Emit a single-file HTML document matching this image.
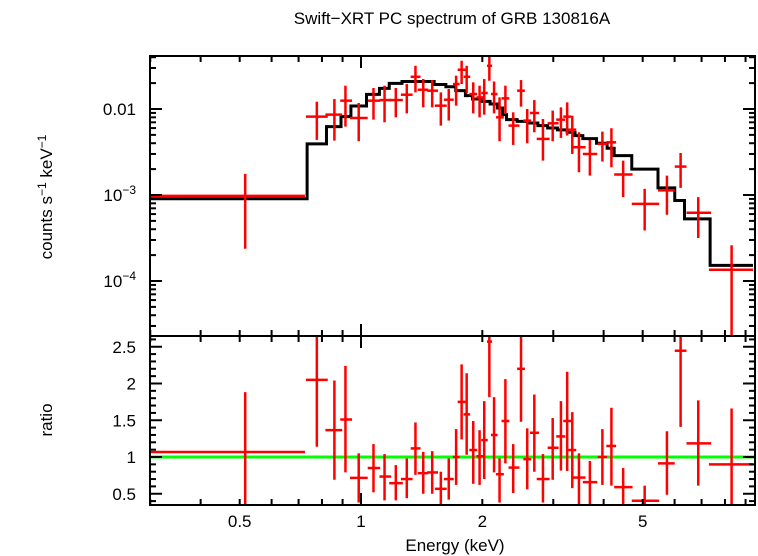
<!DOCTYPE html>
<html><head><meta charset="utf-8"><style>
body{margin:0;background:#fff;}
svg{display:block;font-family:"Liberation Sans",sans-serif;}
</style></head><body>
<svg id="chart" width="758" height="556" viewBox="0 0 758 556" xmlns="http://www.w3.org/2000/svg">
<text x="452" y="24" font-size="17" text-anchor="middle">Swift−XRT PC spectrum of GRB 130816A</text>
<text transform="translate(52,197) rotate(-90)" font-size="17" text-anchor="middle">counts s<tspan font-size="12" dy="-6">−1</tspan><tspan dy="6"> keV</tspan><tspan font-size="12" dy="-6">−1</tspan></text>
<text transform="translate(52,420) rotate(-90)" font-size="17" text-anchor="middle">ratio</text>
<text x="455" y="551" font-size="17" text-anchor="middle">Energy (keV)</text>
<g id="g"></g>
</svg>
<script>
// bins: energy low, center, high (keV)
const eLo=[0.298,0.730,0.816,0.888,0.939,1.039,1.111,1.175,1.256,1.328,1.383,1.459,1.525,1.606,1.691,1.737,1.797,1.857,1.934,1.987,2.054,2.101,2.163,2.232,2.323,2.440,2.528,2.626,2.729,2.905,3.051,3.176,3.270,3.359,3.552,3.867,4.062,4.248,4.698,5.457,6.005,6.422,7.30];
const eMid=[0.516,0.777,0.859,0.915,0.987,1.074,1.144,1.220,1.299,1.365,1.427,1.502,1.578,1.651,1.722,1.777,1.829,1.899,1.969,2.022,2.082,2.139,2.207,2.282,2.386,2.495,2.585,2.692,2.828,2.990,3.134,3.248,3.344,3.474,3.698,3.972,4.182,4.472,5.057,5.743,6.210,6.868,8.31];
const eHi=[0.726,0.827,0.898,0.950,1.039,1.116,1.188,1.270,1.343,1.405,1.469,1.553,1.632,1.699,1.757,1.816,1.866,1.942,2.009,2.063,2.115,2.182,2.262,2.333,2.473,2.551,2.644,2.765,2.938,3.092,3.212,3.322,3.420,3.608,3.858,4.080,4.295,4.719,5.494,6.005,6.422,7.39,9.39];
// counts s^-1 keV^-1
const rate=[9.78e-4,8.15e-3,8.59e-3,0.0125,7.87e-3,0.0125,0.0127,0.0127,0.01466,0.0237,0.01675,0.01633,0.01093,0.01283,0.0195,0.0286,0.0237,0.01493,0.01365,0.01535,0.0318,0.01493,8.0e-3,0.0133,6.41e-3,0.01633,7.33e-3,8.99e-3,4.49e-3,6.82e-3,7.52e-3,8.15e-3,5.75e-3,3.59e-3,3.0e-3,3.93e-3,4.1e-3,1.73e-3,7.89e-4,1.13e-3,2.14e-3,6.21e-4,1.35e-4];
const rateHi=[1.76e-3,0.01216,0.01306,0.01866,0.01174,0.01754,0.01866,0.01754,0.0195,0.0318,0.0223,0.0217,0.0156,0.01706,0.0244,0.0364,0.0318,0.0204,0.01866,0.0223,0.0416,0.0209,0.01365,0.01866,9.15e-3,0.0217,0.01,0.0127,7.65e-3,9.57e-3,0.01045,0.01194,8.37e-3,5.36e-3,4.37e-3,5.46e-3,5.97e-3,2.51e-3,1.18e-3,1.68e-3,3.08e-3,9.44e-4,2.6e-4];
const rateLo=[2.37e-4,4.37e-3,4.29e-3,6.24e-3,4.22e-3,7.52e-3,7.0e-3,8.0e-3,8.9e-3,0.0156,0.01045,0.01045,6.41e-3,7.33e-3,0.01093,0.0195,0.0152,8.9e-3,8.0e-3,8.59e-3,0.0213,8.9e-3,4.22e-3,8.75e-3,3.82e-3,0.01064,4.0e-3,5.36e-3,2.51e-3,4.22e-3,4.61e-3,4.91e-3,3.0e-3,1.84e-3,1.68e-3,2.45e-3,2.1e-3,9.44e-4,3.87e-4,5.89e-4,1.21e-3,3.16e-4,1e-5];
// ratio data/model
const ratio=[1.068,2.05,1.365,1.51,0.716,0.85,0.734,0.644,0.70,1.117,0.78,0.79,0.567,0.70,1.0,1.75,1.58,1.095,1.01,1.23,2.57,1.30,0.766,1.49,0.856,2.20,0.97,1.33,0.70,1.126,1.28,1.49,1.095,0.72,0.658,1.0,1.15,0.59,0.405,0.914,2.446,1.185,0.90];
const ratioHi=[1.883,2.8,2.04,2.24,1.05,1.176,1.04,0.89,0.98,1.47,1.07,1.08,0.80,0.98,1.38,2.26,2.14,1.49,1.365,1.76,2.8,1.815,0.98,2.06,1.176,2.8,1.39,1.85,1.04,1.53,1.76,2.16,1.61,1.05,0.946,1.38,1.67,0.85,0.61,1.35,2.8,1.77,1.66];
const ratioLo=[0.2,1.14,0.69,0.79,0.38,0.52,0.41,0.41,0.44,0.757,0.5,0.5,0.3,0.42,0.62,1.24,1.03,0.635,0.62,0.70,1.815,0.79,0.38,0.914,0.51,1.48,0.56,0.80,0.38,0.69,0.815,0.81,0.577,0.3,0.3,0.62,0.61,0.3,0.3,0.486,1.41,0.61,0.3];
// model step edges (keV) and values
const modelEdges=[0.298,0.735,0.821,0.892,0.944,1.032,1.111,1.175,1.264,1.519,1.624,1.718,1.816,1.891,1.987,2.091,2.182,2.246,2.297,2.440,2.597,2.747,2.905,3.072,3.248,3.397,3.552,3.841,4.080,4.248,4.698,5.457,6.005,6.35,7.35,9.39];
const modelVals=[9.03e-4,3.93e-3,6.24e-3,8.15e-3,0.01083,0.01479,0.01738,0.01986,0.0209,0.0193,0.01815,0.01633,0.01429,0.01306,0.01228,0.01143,0.01027,8.59e-3,7.52e-3,7.19e-3,6.88e-3,6.41e-3,6.02e-3,5.71e-3,5.36e-3,4.91e-3,4.53e-3,4.0e-3,3.50e-3,2.87e-3,2.0e-3,1.21e-3,8.63e-4,5.28e-4,1.52e-4];
const topTickLabels=[["0.01",-2],["10","-3"],["10","-4"]];
const xTickLabels=[["0.5",0.5],["1",1],["2",2],["5",5]];
const ratioTickLabels=["0.5","1","1.5","2","2.5"];

const L=150,R=755,T1=56,B1=336,T2=336,B2=505;
const xs=e=>361+403*Math.log10(e);
const ys1=v=>{let p=109-86*(Math.log10(v)+2);return Math.max(T1,Math.min(B1,p));};
const ys2=r=>{let p=457-73.5*(r-1);return Math.max(T2,Math.min(B2,p));};
const NS="http://www.w3.org/2000/svg";
const g=document.getElementById('g');
function mk(tag,at,parent){const el=document.createElementNS(NS,tag);for(const k in at)el.setAttribute(k,at[k]);(parent||g).appendChild(el);return el;}
const clipX=x=>Math.max(L,Math.min(R,x));

let d="";
for(let i=0;i<modelVals.length;i++){
  const x0=clipX(xs(modelEdges[i])),x1=clipX(xs(modelEdges[i+1])),y=ys1(modelVals[i]);
  d+=(i===0?"M":"L")+x0+","+y+"L"+x1+","+y;
}
const model=mk('path',{d:d,fill:'none',stroke:'#000','stroke-width':3});



for(let i=0;i<rate.length;i++){
  const grp=mk('g',{stroke:'#f00','stroke-width':2.5});
  
  
  const y=ys1(rate[i]),x=xs(eMid[i]);
  mk('line',{x1:clipX(xs(eLo[i])),x2:clipX(xs(eHi[i])),y1:y,y2:y},grp);
  mk('line',{x1:x,x2:x,y1:ys1(rateHi[i]),y2:ys1(rateLo[i])},grp);
}
const gl=mk('line',{x1:L,x2:R,y1:ys2(1),y2:ys2(1),stroke:'#0f0','stroke-width':3});


for(let i=0;i<ratio.length;i++){
  const grp=mk('g',{stroke:'#f00','stroke-width':2.5});
  
  
  const y=ys2(ratio[i]),x=xs(eMid[i]);
  mk('line',{x1:clipX(xs(eLo[i])),x2:clipX(xs(eHi[i])),y1:y,y2:y},grp);
  mk('line',{x1:x,x2:x,y1:ys2(ratioHi[i]),y2:ys2(ratioLo[i])},grp);
}
const f1=mk('rect',{x:L,y:T1,width:R-L,height:B1-T1,fill:'none',stroke:'#000','stroke-width':2});


const f2=mk('rect',{x:L,y:T2,width:R-L,height:B2-T2,fill:'none',stroke:'#000','stroke-width':2});


const tk=mk('g',{stroke:'#000','stroke-width':2});


for(let dec=0.1;dec<=1;dec*=10){for(let m=1;m<10;m++){const e=dec*m;const x=xs(e);if(x<L||x>R)continue;
  const len=(m===1)?12:6;
  for(const [yb,dir] of [[T1,1],[B1,-1],[T2,1],[B2,-1]]) mk('line',{x1:x,x2:x,y1:yb,y2:yb+dir*len},tk);
}}
for(let p=-5;p<=-1;p++){for(let m=1;m<10;m++){const v=m*Math.pow(10,p);const y=109-86*(Math.log10(v)+2);if(y<T1||y>B1)continue;
  const len=(m===1)?12:6;mk('line',{x1:L,x2:L+len,y1:y,y2:y},tk);mk('line',{x1:R,x2:R-len,y1:y,y2:y},tk);}}
for(let k=4;k<=26;k++){const r=k/10;const y=ys2(r);if(y<=T2+1||y>=B2-1)continue;const len=(k%5===0)?12:6;
  mk('line',{x1:L,x2:L+len,y1:y,y2:y},tk);mk('line',{x1:R,x2:R-len,y1:y,y2:y},tk);}
topTickLabels.forEach(t=>{
  const y=(t[0]==="0.01")?ys1(0.01):ys1(Math.pow(10,+t[1]));
  const tx=mk('text',{x:136,y:y+6,'font-size':17,'text-anchor':'end'});
  
  
  if(t[0]==="0.01") tx.textContent="0.01";
  else{tx.textContent="10";const s=mk('tspan',{'font-size':12,dy:-7},tx);s.textContent="−"+String(t[1]).slice(1);}
});
ratioTickLabels.forEach(t=>{
  const tx=mk('text',{x:136,y:ys2(+t)+6,'font-size':17,'text-anchor':'end'});
  
  
  tx.textContent=t;
});
xTickLabels.forEach(t=>{
  const tx=mk('text',{x:xs(t[1]),y:527,'font-size':17,'text-anchor':'middle'});
  
  
  tx.textContent=t[0];
});
</script>
</body></html>
